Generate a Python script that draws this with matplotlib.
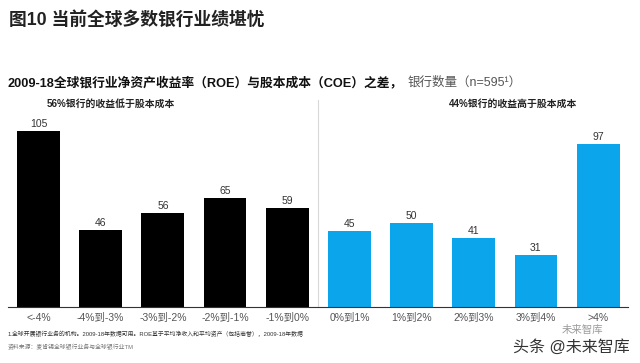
import matplotlib
matplotlib.use("Agg")
import matplotlib.pyplot as plt

plt.rcParams['font.family'] = ['Liberation Sans', 'Noto Sans CJK SC', 'DejaVu Sans']

labels = ['<-4%', '-4%到-3%', '-3%到-2%', '-2%到-1%', '-1%到0%',
          '0%到1%', '1%到2%', '2%到3%', '3%到4%', '>4%']
values = [105, 46, 56, 65, 59, 45, 50, 41, 31, 97]
colors = ['#000000'] * 5 + ['#0aa5ea'] * 5

W, H = 640, 363


def px(x, y):
    return x / W, 1 - y / H


fig = plt.figure(figsize=(W / 100, H / 100), dpi=100)
ax = fig.add_axes([8 / W, 1 - 307 / H, 620 / W, 207 / H])

bars = ax.bar(range(10), values, width=0.69, color=colors)
ax.bar_label(bars, labels=[str(v) for v in values], padding=1.5, fontsize=7.5, color='#333333')
ax.set_xlim(-0.49, 9.48)
ax.set_ylim(0, 207 / 1.68)
ax.set_xticks(range(10))
ax.set_xticklabels(labels, fontsize=7.5, color='#555555')
ax.tick_params(axis='x', length=0, pad=4)
ax.set_yticks([])
for s in ['top', 'left', 'right']:
    ax.spines[s].set_visible(False)
ax.spines['bottom'].set_color('#333333')
ax.spines['bottom'].set_linewidth(0.8)
ax.axvline(4.5, color='#d8d8d8', lw=0.8)

x, y = px(9, 20)
fig.text(x, y, '图10 当前全球多数银行业绩堪忧', fontsize=12.8, fontweight='bold',
         color='#222222', va='center')
x, y = px(8, 83)
fig.text(x, y, '2009-18全球银行业净资产收益率（ROE）与股本成本（COE）之差，', fontsize=9.2,
         fontweight='bold', color='#111111', va='center')
x, y = px(408, 83)
fig.text(x, y, '银行数量（n=595¹）', fontsize=9, color='#555555', va='center')
x, y = px(47, 104)
fig.text(x, y, '56%银行的收益低于股本成本', fontsize=7.1, fontweight='bold', color='#222222', va='center')
x, y = px(449, 104)
fig.text(x, y, '44%银行的收益高于股本成本', fontsize=7.1, fontweight='bold', color='#222222', va='center')
x, y = px(8, 334)
fig.text(x, y, '1.全球开展银行业务的机构。2009-18年数据可用。ROE基于平均净收入和平均资产（包括商誉），2009-18年数据',
         fontsize=4.2, color='#333333', va='center')
x, y = px(8, 347)
fig.text(x, y, '资料来源：麦肯锡全球银行业务与全球银行业TM', fontsize=4.2, color='#777777', va='center')
x, y = px(562, 330)
fig.text(x, y, '未来智库', fontsize=7.5, color='#9a9a9a', va='center')
x, y = px(513, 347)
fig.text(x, y, '头条 @未来智库', fontsize=11.5, color='#333333', va='center')

fig.savefig('out.png', dpi=100)
